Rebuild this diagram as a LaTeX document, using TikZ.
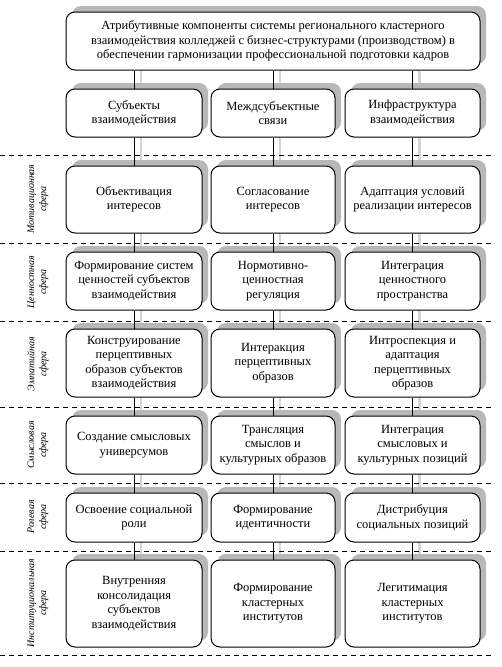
\documentclass[tikz,border=0pt]{standalone}
\usepackage{fontspec}
\setmainfont{Liberation Serif}
\usetikzlibrary{shadows,backgrounds}
\tikzset{
  box/.style={draw, line width=1pt, rounded corners=9pt, fill=white, align=center,
    inner sep=0pt, font=\fontsize{12.5}{14.5}\selectfont,
    drop shadow={shadow xshift=6pt, shadow yshift=6pt, fill=black!28, opacity=1}},
  link/.style={line width=0.8pt},
  shline/.style={line width=2.5pt, draw=black!17},
  sep/.style={dashed, dash pattern=on 5pt off 4pt, line width=0.8pt},
  sphere/.style={rotate=90, align=center, font=\fontsize{10}{12}\selectfont\itshape, inner sep=0pt}
}
\newcommand{\cellbox}[6]{\node[box, minimum width=#4pt, minimum height=#5pt] (#1) at (#2,#3) {#6};}
\begin{document}
\begin{tikzpicture}[x=1pt,y=-1pt]
\useasboundingbox (0,0) rectangle (501,667);
% top
\cellbox{top}{273}{41}{414}{58}{\fontsize{12.5}{17}\selectfont Атрибутивные компоненты системы регионального кластерного\\ взаимодействия колледжей с бизнес-структурами (производством) в\\ обеспечении гармонизации профессиональной подготовки кадров}
% row 1
\cellbox{a1}{134}{113}{136}{48}{Субъекты\\взаимодействия}
\cellbox{b1}{273}{113}{124}{48}{Междсубъектные\\связи}
\cellbox{c1}{412.5}{113}{135}{48}{Инфраструктура\\взаимодействия}
% row 2
\cellbox{a2}{134}{199.5}{136}{67}{Объективация\\интересов}
\cellbox{b2}{273}{199.5}{124}{67}{Согласование\\интересов}
\cellbox{c2}{412.5}{199.5}{135}{67}{Адаптация условий\\реализации интересов}
% row 3
\cellbox{a3}{134}{281}{136}{58}{Формирование систем\\ценностей субъектов\\взаимодействия}
\cellbox{b3}{273}{281}{124}{58}{Нормотивно-\\ценностная\\регуляция}
\cellbox{c3}{412.5}{281}{135}{58}{Интеграция\\ценностного\\пространства}
% row 4
\cellbox{a4}{134}{363}{136}{68}{Конструирование\\перцептивных\\образов субъектов\\взаимодействия}
\cellbox{b4}{273}{363}{124}{68}{Интеракция\\перцептивных\\образов}
\cellbox{c4}{412.5}{363}{135}{68}{Интроспекция и\\адаптация\\перцептивных\\образов}
% row 5
\cellbox{a5}{134}{445}{136}{58}{Создание смысловых\\универсумов}
\cellbox{b5}{273}{445}{124}{58}{Трансляция\\смыслов и\\культурных образов}
\cellbox{c5}{412.5}{445}{135}{58}{Интеграция\\смысловых и\\культурных позиций}
% row 6
\cellbox{a6}{134}{517.5}{136}{49}{Освоение социальной\\роли}
\cellbox{b6}{273}{517.5}{124}{49}{Формирование\\идентичности}
\cellbox{c6}{412.5}{517.5}{135}{49}{Дистрибуция\\социальных позиций}
% row 7
\cellbox{a7}{134}{603.5}{136}{87}{Внутренняя\\консолидация\\субъектов\\взаимодействия}
\cellbox{b7}{273}{603.5}{124}{87}{Формирование\\кластерных\\институтов}
\cellbox{c7}{412.5}{603.5}{135}{87}{Легитимация\\кластерных\\институтов}
% side labels
\node[sphere] (s1) at (38,199) {Мотивационная\\сфера};
\node[sphere] (s2) at (38,282) {Ценностная\\сфера};
\node[sphere] (s3) at (38,364) {Эмпатийная\\сфера};
\node[sphere] (s4) at (38,445) {Смысловая\\сфера};
\node[sphere] (s5) at (38,517) {Ролевая\\сфера};
\node[sphere] (s6) at (38,603) {Институциональная\\сфера};
% connectors
\foreach \c in {a,b,c}{
  \draw[link] (top.south -| \c1.north) -- (\c1.north);
  \foreach \i/\j in {1/2,2/3,3/4,4/5,5/6,6/7}{
    \draw[link] (\c\i.south) -- (\c\j.north);
  }
}
\begin{scope}[on background layer]
\foreach \c in {a,b,c}{
  \draw[shline] ([xshift=7pt]top.south -| \c1.north) -- ([xshift=7pt]\c7.north);
}
\foreach \y in {155,243,321,407,483,551,655}{
  \draw[sep] (0,\y) -- (491,\y);
}
\end{scope}
\end{tikzpicture}
\end{document}
